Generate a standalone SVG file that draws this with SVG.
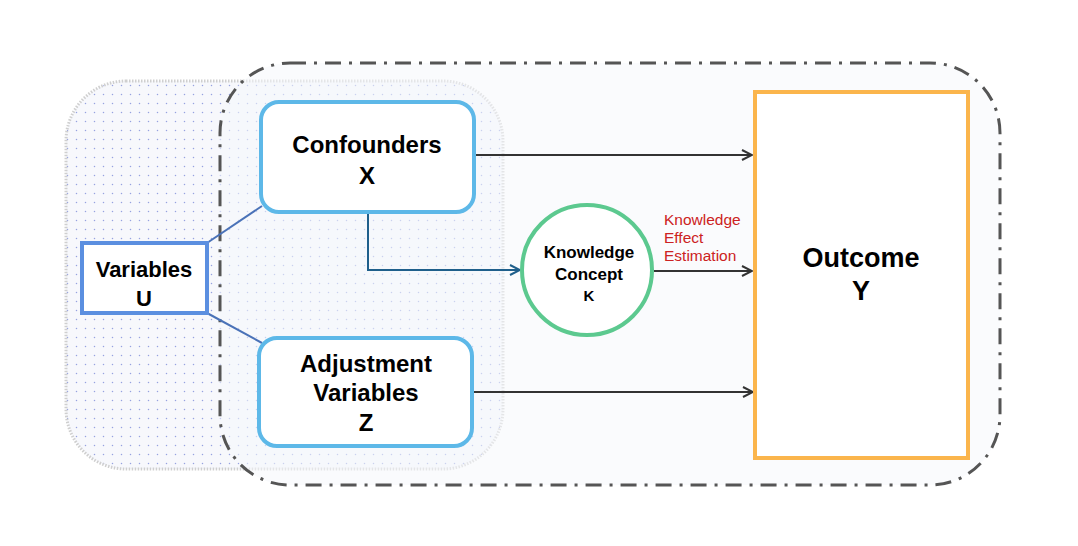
<svg xmlns="http://www.w3.org/2000/svg" width="1078" height="546" viewBox="0 0 1078 546">
<defs>
<pattern id="dots" width="9" height="9" patternUnits="userSpaceOnUse">
<rect width="9" height="9" fill="#f7f8fc"/>
<circle cx="4.5" cy="4.5" r="0.75" fill="#96a2e0"/>
</pattern>
<marker id="ah" viewBox="0 0 12 12" refX="11" refY="6" markerWidth="12" markerHeight="12" markerUnits="userSpaceOnUse" orient="auto">
<path d="M1,1 L11,6 L1,11" fill="none" stroke="#333" stroke-width="2"/>
</marker>
<marker id="ahb" viewBox="0 0 12 12" refX="11" refY="6" markerWidth="12" markerHeight="12" markerUnits="userSpaceOnUse" orient="auto">
<path d="M1,1 L11,6 L1,11" fill="none" stroke="#1f5f8b" stroke-width="2"/>
</marker>
</defs>
<style>
.t{font-family:"Liberation Sans",Arial,sans-serif;font-weight:bold;fill:#000;text-anchor:middle}
.node{fill:#fff;stroke:#5db8e8;stroke-width:4}
.arr{stroke:#333;stroke-width:2;fill:none;marker-end:url(#ah)}
.lnk{stroke:#4a72b8;stroke-width:2;fill:none}
</style>
<rect width="1078" height="546" fill="#fff"/>
<g id="region-u">
<rect x="66" y="81" width="437" height="388" rx="60" fill="url(#dots)" stroke="#cfcfcf" stroke-width="3" stroke-dasharray="1.5 1.5"/>
</g>
<g id="region-main">
<rect x="220" y="63" width="780" height="422" rx="70" fill="#f6f8fc" fill-opacity="0.55" stroke="#555" stroke-width="3" stroke-dasharray="16 8 3 8"/>
</g>
<g id="connectors">
<line class="lnk" x1="207" y1="243" x2="262" y2="206"/>
<line class="lnk" x1="207" y1="313" x2="262" y2="343"/>
<line class="arr" x1="476" y1="155" x2="752" y2="155"/>
<line class="arr" x1="474" y1="392" x2="753" y2="392"/>
<line class="arr" x1="654" y1="271" x2="752" y2="271"/>
<path d="M368,213 V270 H520" stroke="#1f5f8b" stroke-width="2" fill="none" marker-end="url(#ahb)"/>
<g font-family="'Liberation Sans',Arial,sans-serif" font-size="15.5" fill="#cc2222">
<text x="664" y="225">Knowledge</text>
<text x="664" y="243">Effect</text>
<text x="664" y="261">Estimation</text>
</g>
</g>
<g id="node-x">
<rect class="node" x="261" y="102" width="213" height="110" rx="18"/>
<text class="t" x="367" y="153" font-size="24">Confounders</text>
<text class="t" x="367" y="184" font-size="24">X</text>
</g>
<g id="node-z">
<rect class="node" x="259" y="338" width="213" height="108" rx="18"/>
<text class="t" x="366" y="372" font-size="24">Adjustment</text>
<text class="t" x="366" y="401" font-size="24">Variables</text>
<text class="t" x="366" y="431" font-size="24">Z</text>
</g>
<g id="node-u">
<rect x="82" y="243" width="125" height="70" fill="#fff" stroke="#5b8fe0" stroke-width="4"/>
<text class="t" x="144" y="277" font-size="22">Variables</text>
<text class="t" x="144" y="306" font-size="22">U</text>
</g>
<g id="node-k">
<circle cx="587" cy="270" r="65" fill="#fff" stroke="#5cc98f" stroke-width="4"/>
<text class="t" x="589" y="258" font-size="17">Knowledge</text>
<text class="t" x="589" y="280" font-size="17">Concept</text>
<text class="t" x="589" y="301" font-size="15">K</text>
</g>
<g id="node-y">
<rect x="755" y="92" width="213" height="366" fill="#fff" stroke="#fbb54c" stroke-width="4"/>
<text class="t" x="861" y="267" font-size="27">Outcome</text>
<text class="t" x="861" y="300" font-size="27">Y</text>
</g>
</svg>
